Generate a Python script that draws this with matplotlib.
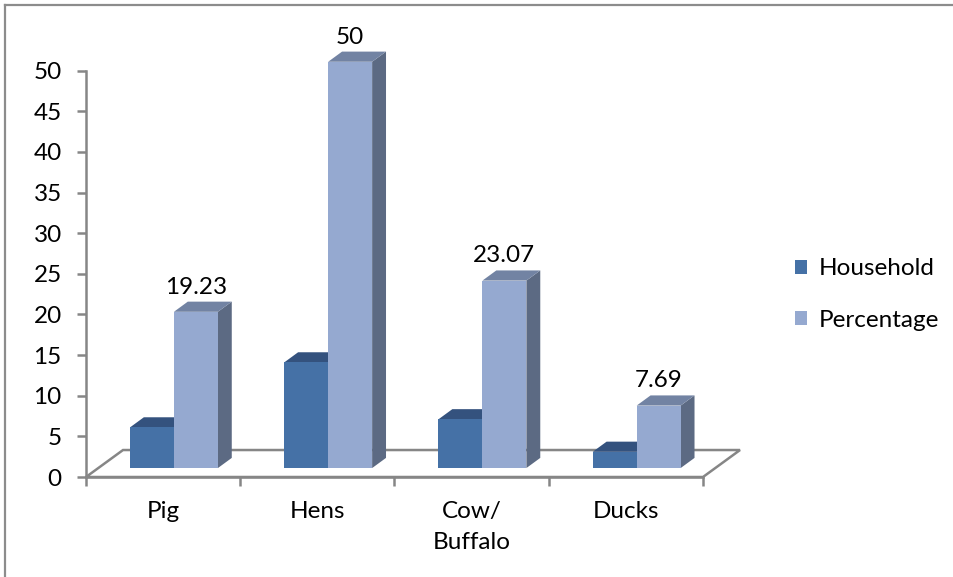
import matplotlib.pyplot as plt
from matplotlib.patches import Polygon, Rectangle, Patch
from matplotlib.lines import Line2D

plt.rcParams['font.family'] = ['Lato', 'DejaVu Sans']

# livestock kept by the surveyed households
animals = ['Pig', 'Hens', 'Cow/\nBuffalo', 'Ducks']
household = [5, 13, 6, 2]
percentage = [19.23, 50, 23.07, 7.69]
series_names = ['Household', 'Percentage']

# colours: front, top, side of each series
house_cols = ('#4571a6', '#34527e', '#2f4a70')
perc_cols = ('#95a9d0', '#7283a3', '#5c6a83')
grid_col = '#868686'
fs = 17.5

W, H = 954, 577
fig = plt.figure(figsize=(W / 100, H / 100), dpi=100)
fig.patch.set_facecolor('white')

# plot area in pixels: x 86..703, y 477 (zero) .. 70.7 (fifty)
ax = fig.add_axes([86 / W, (H - 477) / H, (703 - 86) / W, (477 - 70.7) / H])
ax.set_xlim(0, 4)
ax.set_ylim(0, 50)
ax.set_facecolor('none')

# fake 3d settings (data units)
base = 1.1          # bars stand on the middle of the floor
bw = 0.285          # width of one bar
x_off = 0.285       # first bar offset inside a category slot
ddx, ddy = 0.09, 1.25   # bar depth
fdx, fdy = 0.24, 3.32   # floor depth

# floor
floor = Polygon([(0, 0), (4, 0), (4 + fdx, fdy), (fdx, fdy)], closed=True,
                facecolor='white', edgecolor=grid_col, lw=1.8, zorder=1, clip_on=False)
ax.add_patch(floor)


def bar3d(x, v, cols, z):
    front, top, side = cols
    y1 = base + v
    ax.add_patch(Polygon([(x + bw, base), (x + bw + ddx, base + ddy),
                          (x + bw + ddx, y1 + ddy), (x + bw, y1)],
                         facecolor=side, edgecolor='none', zorder=z, clip_on=False))
    ax.add_patch(Polygon([(x, y1), (x + bw, y1), (x + bw + ddx, y1 + ddy), (x + ddx, y1 + ddy)],
                         facecolor=top, edgecolor='none', zorder=z, clip_on=False))
    ax.add_patch(Rectangle((x, base), bw, v, facecolor=front, edgecolor='none',
                           zorder=z + 0.5, clip_on=False))


for i in range(len(animals)):
    x0 = i + x_off
    bar3d(x0, household[i], house_cols, 3)
    bar3d(x0 + bw, percentage[i], perc_cols, 4)
    ax.text(x0 + bw * 1.5, base + percentage[i] + ddy + 0.5, f'{percentage[i]:g}',
            ha='center', va='bottom', fontsize=fs, color='black')

# axes styling
for s in ['top', 'right']:
    ax.spines[s].set_visible(False)
for s in ['left', 'bottom']:
    ax.spines[s].set_color(grid_col)
    ax.spines[s].set_linewidth(1.8)
    ax.spines[s].set_zorder(2)
ax.set_yticks(range(0, 51, 5))
ax.tick_params(axis='y', length=6.5, width=1.8, color=grid_col, pad=11, labelsize=fs)
ax.set_xticks(range(0, 5))
ax.set_xticklabels([])
ax.tick_params(axis='x', length=6.5, width=1.8, color=grid_col)

for i, name in enumerate(animals):
    ax.text(i + 0.5, -0.058, name, transform=ax.get_xaxis_transform(),
            ha='center', va='top', fontsize=fs, linespacing=1.6)

# legend
handles = [Patch(facecolor=house_cols[0]), Patch(facecolor=perc_cols[0])]
fig.legend(handles, series_names, loc='upper left', bbox_to_anchor=(788 / W, 1 - 251 / H),
           frameon=False, fontsize=fs, handlelength=0.5, handleheight=0.5,
           handletextpad=0.45, labelspacing=1.25, borderaxespad=0, borderpad=0.3)

# chart border (top and left edges)
fig.add_artist(Line2D([5 / W, 1], [1 - 5 / H, 1 - 5 / H], color='#8c8c8c', lw=1.6))
fig.add_artist(Line2D([5 / W, 5 / W], [0, 1 - 5 / H], color='#8c8c8c', lw=1.6))

fig.savefig('out.png', dpi=100)
